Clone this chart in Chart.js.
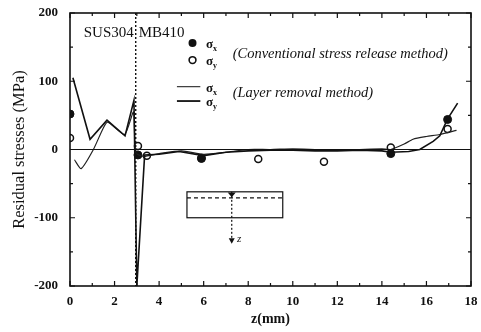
<!DOCTYPE html>
<html>
<head>
<meta charset="utf-8">
<script src="https://cdn.jsdelivr.net/npm/chart.js@4"></script>
<style>
  html, body { margin: 0; padding: 0; background: #fff; }
  #wrap { width: 481px; height: 332px; }
</style>
</head>
<body>
<div id="wrap"><canvas id="stressChart"></canvas></div>
<script>
// conventional stress release method
const convXz = [0, 3.05, 5.9, 14.4, 16.95];
const convSx = [52, -8, -13, -6, 44];
const convYz = [0, 3.05, 3.45, 5.9, 8.45, 11.4, 14.4, 16.95];
const convSy = [17, 5, -9, -13, -14, -18, 3, 30];

// layer removal method
const layerXz = [0.13, 0.9, 1.66, 2.47, 2.87, 3.0, 3.35, 4, 4.9, 6, 7, 8, 9, 10, 11, 12, 13, 14, 14.4, 15.2, 15.7, 16.3, 16.6, 16.95, 17.4];
const layerSx = [105, 15, 43, 20, 72, -200, -8, -7, -3, -9, -4, -2, -1, -1, -2, -2, -1, -2, -4, -3, 0, 12, 20, 45, 68];
const layerYz = [0.2, 0.5, 1.05, 1.5, 1.7, 2.45, 2.85, 2.95, 3.3, 4, 5, 6, 7, 8, 9, 10, 11, 12, 13, 14, 14.4, 15, 15.4, 16, 16.6, 17.35];
const layerSy = [-15, -28, 0, 32, 40, 22, 55, -5, -10, -6, -2, -7, -4, 0, 0, 1, 0, -1, 0, 1, 0, 8, 15, 19, 22, 28];

const xTicks = [0, 2, 4, 6, 8, 10, 12, 14, 16, 18];
const yTicks = [-200, -100, 0, 100, 200];

const interfaceZ = 2.95;

function pts(xs, ys) {
    return xs.map((x, i) => ({ x: x, y: ys[i] }));
}

const serif = "'Liberation Serif', 'DejaVu Serif', serif";

const framePlugin = {
    id: "frame",
    afterDatasetsDraw(chart) {
        const { ctx, chartArea: a, scales } = chart;
        const xs = scales.x, ys = scales.y;
        const X = v => xs.getPixelForValue(v);
        const Y = v => ys.getPixelForValue(v);
        ctx.save();
        ctx.strokeStyle = "#111";
        ctx.fillStyle = "#111";

        // frame
        ctx.lineWidth = 1.6;
        ctx.strokeRect(a.left, a.top, a.right - a.left, a.bottom - a.top);

        // zero line
        ctx.lineWidth = 1.2;
        ctx.beginPath();
        ctx.moveTo(a.left, Y(0));
        ctx.lineTo(a.right, Y(0));
        ctx.stroke();

        // inward ticks
        ctx.lineWidth = 1.2;
        for (let v = 0; v <= 18; v += 1) {
            const len = v % 2 === 0 ? 5 : 3;
            ctx.beginPath();
            ctx.moveTo(X(v), a.bottom); ctx.lineTo(X(v), a.bottom - len);
            ctx.moveTo(X(v), a.top); ctx.lineTo(X(v), a.top + len);
            ctx.stroke();
        }
        for (let v = -200; v <= 200; v += 50) {
            const len = v % 100 === 0 ? 5 : 3;
            ctx.beginPath();
            ctx.moveTo(a.left, Y(v)); ctx.lineTo(a.left + len, Y(v));
            ctx.moveTo(a.right, Y(v)); ctx.lineTo(a.right - len, Y(v));
            ctx.stroke();
        }

        // interface line
        ctx.setLineDash([2, 2]);
        ctx.lineWidth = 1.4;
        ctx.beginPath();
        ctx.moveTo(X(interfaceZ), a.top);
        ctx.lineTo(X(interfaceZ), a.bottom);
        ctx.stroke();
        ctx.setLineDash([]);

        // material labels
        ctx.font = "15px " + serif;
        ctx.textBaseline = "alphabetic";
        ctx.textAlign = "right";
        ctx.fillText("SUS304", X(interfaceZ) - 2, Y(165));
        ctx.textAlign = "left";
        ctx.fillText("MB410", X(interfaceZ) + 3, Y(165));

        // legend
        ctx.beginPath();
        ctx.arc(X(5.5), Y(156), 4, 0, Math.PI * 2);
        ctx.fill();
        ctx.beginPath();
        ctx.lineWidth = 1.6;
        ctx.arc(X(5.5), Y(131), 3.4, 0, Math.PI * 2);
        ctx.stroke();
        ctx.lineWidth = 1;
        ctx.beginPath();
        ctx.moveTo(X(4.8), Y(92)); ctx.lineTo(X(5.85), Y(92));
        ctx.stroke();
        ctx.lineWidth = 1.8;
        ctx.beginPath();
        ctx.moveTo(X(4.8), Y(71)); ctx.lineTo(X(5.85), Y(71));
        ctx.stroke();

        ctx.textBaseline = "middle";
        const sig = (label, sub, x, y) => {
            ctx.font = "bold 13px " + serif;
            ctx.fillText(label, X(x), Y(y));
            const w = ctx.measureText(label).width;
            ctx.font = "bold 8px " + serif;
            ctx.fillText(sub, X(x) + w, Y(y) + 4);
        };
        sig("σ", "x", 6.1, 153);
        sig("σ", "y", 6.1, 128);
        sig("σ", "x", 6.1, 89);
        sig("σ", "y", 6.1, 68);
        ctx.font = "italic 14.5px " + serif;
        ctx.fillText("(Conventional stress release method)", X(7.3), Y(140));
        ctx.fillText("(Layer removal method)", X(7.3), Y(82));

        // specimen sketch
        ctx.lineWidth = 1.2;
        ctx.strokeRect(X(5.25), Y(-62), X(9.55) - X(5.25), Y(-100) - Y(-62));
        ctx.setLineDash([4, 3]);
        ctx.beginPath();
        ctx.moveTo(X(5.25), Y(-71)); ctx.lineTo(X(9.55), Y(-71));
        ctx.stroke();
        ctx.setLineDash([2, 2]);
        ctx.beginPath();
        ctx.moveTo(X(7.26), Y(-62)); ctx.lineTo(X(7.26), Y(-132));
        ctx.stroke();
        ctx.setLineDash([]);
        ctx.beginPath();
        ctx.moveTo(X(7.26) - 4, Y(-63)); ctx.lineTo(X(7.26) + 4, Y(-63)); ctx.lineTo(X(7.26), Y(-70));
        ctx.closePath(); ctx.fill();
        ctx.beginPath();
        ctx.moveTo(X(7.26) - 3, Y(-130)); ctx.lineTo(X(7.26) + 3, Y(-130)); ctx.lineTo(X(7.26), Y(-138));
        ctx.closePath(); ctx.fill();
        ctx.font = "italic 11px " + serif;
        ctx.fillText("z", X(7.5), Y(-131));

        ctx.restore();
    }
};

new Chart(document.getElementById("stressChart"), {
    type: "scatter",
    data: {
        datasets: [
            {
                label: "σx layer",
                type: "line",
                data: pts(layerXz, layerSx),
                borderColor: "#111",
                borderWidth: 1.6,
                pointRadius: 0,
                tension: 0,
                fill: false
            },
            {
                label: "σy layer",
                type: "line",
                data: pts(layerYz, layerSy),
                borderColor: "#222",
                borderWidth: 1.2,
                pointRadius: 0,
                tension: 0.2,
                fill: false
            },
            {
                label: "σx conventional",
                data: pts(convXz, convSx),
                pointRadius: 4,
                pointBackgroundColor: "#111",
                pointBorderColor: "#111",
                pointBorderWidth: 1
            },
            {
                label: "σy conventional",
                data: pts(convYz, convSy),
                pointRadius: 3.5,
                pointBackgroundColor: "#fff",
                pointBorderColor: "#111",
                pointBorderWidth: 1.5
            }
        ]
    },
    options: {
        responsive: true,
        maintainAspectRatio: false,
        animation: false,
        layout: { padding: { top: 13, right: 10, left: 6, bottom: 0 } },
        plugins: {
            legend: { display: false },
            tooltip: { enabled: false }
        },
        scales: {
            x: {
                type: "linear",
                min: 0,
                max: 18,
                afterBuildTicks: s => { s.ticks = xTicks.map(v => ({ value: v })); },
                afterFit: s => { s.height = 46; },
                grid: { display: false },
                border: { display: false },
                ticks: {
                    color: "#111",
                    padding: 0,
                    font: { family: serif, size: 13, weight: "bold" }
                },
                title: {
                    display: true,
                    text: "z(mm)",
                    color: "#111",
                    padding: { top: 0 },
                    font: { family: serif, size: 14, weight: "bold" }
                }
            },
            y: {
                type: "linear",
                min: -200,
                max: 200,
                afterBuildTicks: s => { s.ticks = yTicks.map(v => ({ value: v })); },
                afterFit: s => { s.width = 64; },
                grid: { display: false },
                border: { display: false },
                ticks: {
                    color: "#111",
                    padding: 4,
                    font: { family: serif, size: 13, weight: "bold" }
                },
                title: {
                    display: true,
                    text: "Residual stresses (MPa)",
                    color: "#111",
                    padding: { bottom: 0 },
                    font: { family: serif, size: 16.5 }
                }
            }
        }
    },
    plugins: [framePlugin]
});
</script>
</body>
</html>
